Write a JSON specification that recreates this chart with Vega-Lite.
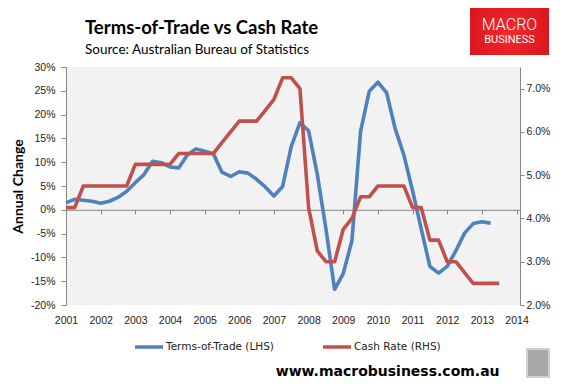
{
  "$schema": "https://vega.github.io/schema/vega-lite/v6.json",
  "width": 454,
  "height": 238,
  "autosize": {"type": "none"},
  "padding": {"top": 67, "left": 66, "right": 48, "bottom": 86},
  "background": "white",
  "config": {
    "view": {"fill": "#f2f2f2", "stroke": null},
    "axis": {"labelFont": "Liberation Sans", "labelFontSize": 10.5, "labelColor": "#222222", "domainColor": "#868686", "tickColor": "#868686", "grid": false}
  },
  "title": {
    "text": "Terms-of-Trade vs Cash Rate",
    "subtitle": "Source: Australian Bureau of Statistics",
    "anchor": "start",
    "frame": "group",
    "dx": 19,
    "offset": -48,
    "font": "Lato",
    "fontSize": 18.5,
    "fontWeight": "bold",
    "color": "#000000",
    "subtitleFont": "Lato",
    "subtitleFontSize": 13.5,
    "subtitleColor": "#000000",
    "subtitlePadding": 5
  },
  "data": {
    "values": [
      {"t": 2001.00, "tot": 1.5, "cash": 4.25},
      {"t": 2001.25, "tot": 2.2, "cash": 4.25},
      {"t": 2001.50, "tot": 2.0, "cash": 4.75},
      {"t": 2001.75, "tot": 1.8, "cash": 4.75},
      {"t": 2002.00, "tot": 1.4, "cash": 4.75},
      {"t": 2002.25, "tot": 1.8, "cash": 4.75},
      {"t": 2002.50, "tot": 2.6, "cash": 4.75},
      {"t": 2002.75, "tot": 3.9, "cash": 4.75},
      {"t": 2003.00, "tot": 5.7, "cash": 5.25},
      {"t": 2003.25, "tot": 7.4, "cash": 5.25},
      {"t": 2003.50, "tot": 10.2, "cash": 5.25},
      {"t": 2003.75, "tot": 9.9, "cash": 5.25},
      {"t": 2004.00, "tot": 9.0, "cash": 5.25},
      {"t": 2004.25, "tot": 8.8, "cash": 5.5},
      {"t": 2004.50, "tot": 11.5, "cash": 5.5},
      {"t": 2004.75, "tot": 12.8, "cash": 5.5},
      {"t": 2005.00, "tot": 12.3, "cash": 5.5},
      {"t": 2005.25, "tot": 11.8, "cash": 5.5},
      {"t": 2005.50, "tot": 7.9, "cash": 5.75},
      {"t": 2005.75, "tot": 7.0, "cash": 6.0},
      {"t": 2006.00, "tot": 8.0, "cash": 6.25},
      {"t": 2006.25, "tot": 7.7, "cash": 6.25},
      {"t": 2006.50, "tot": 6.4, "cash": 6.25},
      {"t": 2006.75, "tot": 4.8, "cash": 6.5},
      {"t": 2007.00, "tot": 2.9, "cash": 6.75},
      {"t": 2007.25, "tot": 4.9, "cash": 7.25},
      {"t": 2007.50, "tot": 13.3, "cash": 7.25},
      {"t": 2007.75, "tot": 18.3, "cash": 7.0},
      {"t": 2008.00, "tot": 16.6, "cash": 4.25},
      {"t": 2008.25, "tot": 7.5, "cash": 3.25},
      {"t": 2008.50, "tot": -4.0, "cash": 3.0},
      {"t": 2008.75, "tot": -16.7, "cash": 3.0},
      {"t": 2009.00, "tot": -13.4, "cash": 3.75},
      {"t": 2009.25, "tot": -6.5, "cash": 4.0},
      {"t": 2009.50, "tot": 16.5, "cash": 4.5},
      {"t": 2009.75, "tot": 24.9, "cash": 4.5},
      {"t": 2010.00, "tot": 26.8, "cash": 4.75},
      {"t": 2010.25, "tot": 24.6, "cash": 4.75},
      {"t": 2010.50, "tot": 17.0, "cash": 4.75},
      {"t": 2010.75, "tot": 11.5, "cash": 4.75},
      {"t": 2011.00, "tot": 4.0, "cash": 4.25},
      {"t": 2011.25, "tot": -4.0, "cash": 4.25},
      {"t": 2011.50, "tot": -11.9, "cash": 3.5},
      {"t": 2011.75, "tot": -13.3, "cash": 3.5},
      {"t": 2012.00, "tot": -11.9, "cash": 3.0},
      {"t": 2012.25, "tot": -8.6, "cash": 3.0},
      {"t": 2012.50, "tot": -4.9, "cash": 2.75},
      {"t": 2012.75, "tot": -2.9, "cash": 2.5},
      {"t": 2013.00, "tot": -2.5, "cash": 2.5},
      {"t": 2013.25, "tot": -2.8, "cash": 2.5},
      {"t": 2013.50, "tot": null, "cash": 2.5}
    ]
  },
  "layer": [
    {
      "mark": {"type": "line", "strokeWidth": 3.6, "strokeJoin": "round"},
      "encoding": {
        "x": {
          "field": "t", "type": "quantitative",
          "scale": {"domain": [2001, 2014.1], "nice": false, "zero": false},
          "axis": {"title": null, "values": [2001,2002,2003,2004,2005,2006,2007,2008,2009,2010,2011,2012,2013,2014], "format": "d", "offset": -95.2, "tickSize": 4, "labelPadding": 102, "labelFlush": false, "labelOverlap": false}
        },
        "y": {
          "field": "tot", "type": "quantitative",
          "scale": {"domain": [-20, 30], "nice": false, "zero": false},
          "axis": {"orient": "left", "title": "Annual Change", "titleFont": "Lato", "titleFontSize": 14, "titleFontWeight": "bold", "titleColor": "#000000", "titlePadding": 5, "values": [-20,-15,-10,-5,0,5,10,15,20,25,30], "labelOverlap": false, "labelExpr": "datum.value + '%'", "tickSize": 5, "labelPadding": 6}
        },
        "color": {
          "datum": "Terms-of-Trade (LHS)",
          "scale": {"domain": ["Terms-of-Trade (LHS)", "Cash Rate (RHS)"], "range": ["#4F81BD", "#C0504D"]},
          "legend": {"orient": "none", "legendX": 67, "legendY": 264, "direction": "horizontal", "title": null, "symbolType": "stroke", "symbolSize": 784, "symbolStrokeWidth": 3.5, "labelFont": "DejaVu Sans", "labelFontSize": 10.5, "labelColor": "#222222", "labelOffset": 1, "columnPadding": 42}
        }
      }
    },
    {
      "mark": {"type": "line", "strokeWidth": 3.6, "strokeJoin": "round"},
      "encoding": {
        "x": {
          "field": "t", "type": "quantitative",
          "scale": {"domain": [2001, 2014.1], "nice": false, "zero": false},
          "axis": null
        },
        "y": {
          "field": "cash", "type": "quantitative",
          "scale": {"domain": [2, 7.5], "nice": false, "zero": false},
          "axis": {"orient": "right", "title": null, "values": [2,3,4,5,6,7], "labelExpr": "format(datum.value, '.1f') + '%'", "tickSize": 4, "labelPadding": 2}
        },
        "color": {"datum": "Cash Rate (RHS)"}
      }
    },
    {
      "data": {"values": [{}]},
      "layer": [
        {
          "mark": {"type": "rect", "fill": {"gradient": "radial", "x1": 0.5, "y1": 0.5, "x2": 0.5, "y2": 0.5, "r1": 0, "r2": 0.7, "stops": [{"offset": 0, "color": "#f5282d"}, {"offset": 1, "color": "#d2121a"}]}},
          "encoding": {
            "x": {"datum": 2012.657, "scale": {"domain": [2001, 2014.1], "nice": false, "zero": false}, "axis": null},
            "x2": {"datum": 2014.937},
            "y": {"datum": 42.39, "scale": {"domain": [-20, 30], "nice": false, "zero": false}, "axis": null},
            "y2": {"datum": 32.52}
          }
        },
        {
          "mark": {"type": "text", "text": "MACRO", "font": "Roboto", "fontWeight": 300, "fontSize": 16, "color": "#ffffff", "align": "center", "baseline": "middle"},
          "encoding": {
            "x": {"datum": 2013.797, "axis": null},
            "y": {"datum": 38.75, "axis": null}
          }
        },
        {
          "mark": {"type": "text", "text": "BUSINESS", "font": "Roboto", "fontWeight": 400, "fontSize": 11, "color": "#ffffff", "align": "center", "baseline": "middle"},
          "encoding": {
            "x": {"datum": 2013.797, "axis": null},
            "y": {"datum": 35.6, "axis": null}
          }
        },
        {
          "mark": {"type": "text", "text": "www.macrobusiness.com.au", "font": "DejaVu Sans", "fontWeight": "bold", "fontSize": 14, "color": "#000000", "align": "right", "baseline": "middle"},
          "encoding": {
            "x": {"datum": 2013.511, "axis": null},
            "y": {"datum": -34.16, "axis": null}
          }
        },
        {
          "mark": {"type": "rect", "fill": "#a8a8a8", "stroke": "#d0d0d0", "strokeWidth": 2},
          "encoding": {
            "x": {"datum": 2014.302, "axis": null},
            "x2": {"datum": 2014.937},
            "y": {"datum": -29.24, "axis": null},
            "y2": {"datum": -35.13}
          }
        }
      ]
    }
  ],
  "resolve": {"scale": {"x": "independent", "y": "independent"}}
}
